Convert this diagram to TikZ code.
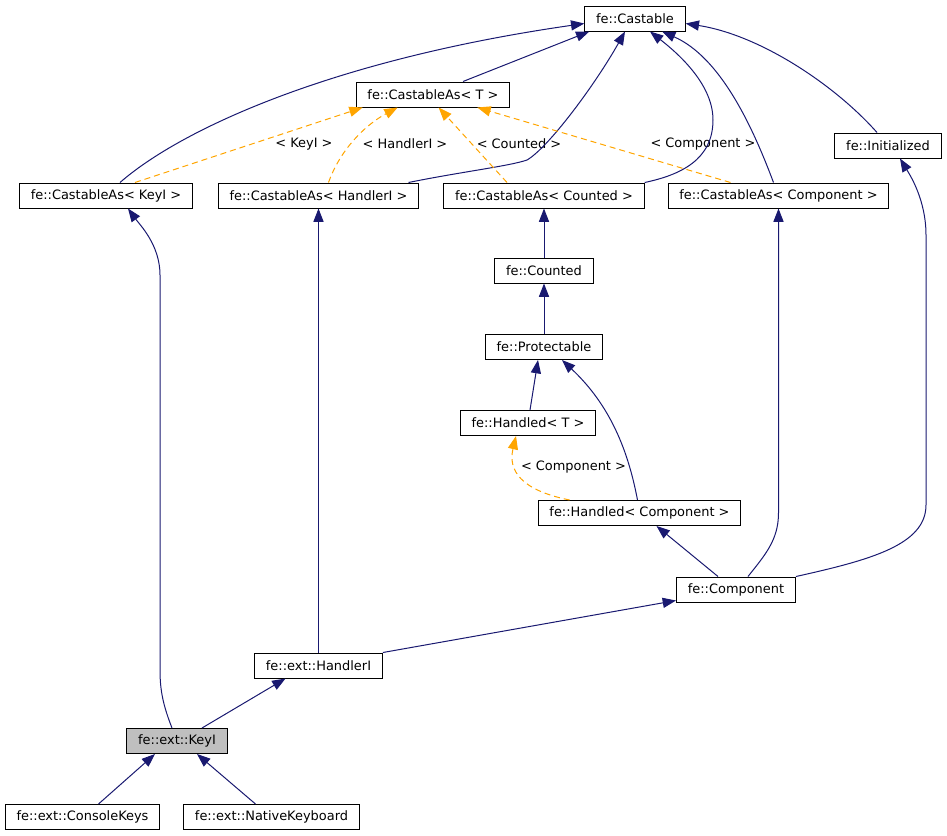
\documentclass[tikz,border=0pt]{standalone}
\usepackage{fontspec}
\setmainfont{DejaVu Sans}
\usetikzlibrary{arrows.meta,calc}
\definecolor{edgeblue}{HTML}{191970}
\definecolor{tplorange}{HTML}{FFA500}
\tikzset{
  cls/.style={draw=black,line width=0.75pt,fill=white,minimum height=18.75pt,inner xsep=8.5pt,inner ysep=0pt,font=\fontsize{9.7pt}{11pt}\selectfont},
  inh/.style={draw=edgeblue,line width=0.75pt,-{Triangle[length=10pt,width=7.6pt,fill=edgeblue]}},
  tpl/.style={draw=tplorange,line width=0.75pt,dash pattern=on 4.5pt off 3pt,-{Triangle[length=10pt,width=7.6pt,fill=tplorange]}},
  lbl/.style={inner sep=0pt,font=\fontsize{9.7pt}{11pt}\selectfont}
}
\begin{document}
\begin{tikzpicture}[x=0.75pt,y=-0.75pt]
\useasboundingbox (0,0) rectangle (947,836);
\node[cls] (castable) at (635,18.5) {fe::Castable};
\node[cls] (castableT) at (433,94.5) {fe::CastableAs< T >};
\node[cls] (initialized) at (888,145.5) {fe::Initialized};
\node[cls] (keyas) at (106,195.5) {fe::CastableAs< KeyI >};
\node[cls] (handleras) at (318.5,195.5) {fe::CastableAs< HandlerI >};
\node[cls] (countedas) at (544,195.5) {fe::CastableAs< Counted >};
\node[cls] (componentas) at (778.5,195.5) {fe::CastableAs< Component >};
\node[cls] (counted) at (544,270.5) {fe::Counted};
\node[cls] (protectable) at (544,347) {fe::Protectable};
\node[cls] (handledT) at (528,423) {fe::Handled< T >};
\node[cls] (handledC) at (639.5,513) {fe::Handled< Component >};
\node[cls] (component) at (736,589.5) {fe::Component};
\node[cls] (handlerI) at (318.5,665.5) {fe::ext::HandlerI};
\node[cls,fill=black!25] (keyI) at (177,741) {fe::ext::KeyI};
\node[cls] (consoleKeys) at (82.5,817) {fe::ext::ConsoleKeys};
\node[cls] (native) at (271.5,817) {fe::ext::NativeKeyboard};
\node[lbl] (lkey) at (304,144) {< KeyI >};
\node[lbl] (lhandler) at (405,144) {< HandlerI >};
\node[lbl] (lcounted) at (519,144) {< Counted >};
\node[lbl] (lcomp) at (703,144) {< Component >};
\node[lbl] (lhcomp) at (573.5,467) {< Component >};
\draw[inh] ($(castableT.north)+(30,0)$) -- ($(castable.south west)+(5,0)$);
\draw[inh] ($(keyas.north)+(14,0)$) .. controls (180,130) and (330,60) .. ($(castable.west)+(0,5)$);
\draw[inh] ($(handleras.north)+(90,0)$) .. controls (460,172) and (510,166) .. (527,160) .. controls (548,148) and (595,85) .. ($(castable.south)+(-10,0)$);
\draw[inh] (countedas.north east) .. controls (680,175) and (713,160) .. (713,120) .. controls (713,85) and (680,55) .. ($(castable.south)+(15,0)$);
\draw[inh] ($(componentas.north)+(-5,0)$) .. controls (752,125) and (720,57) .. ($(castable.south)+(27,0)$);
\draw[inh] ($(initialized.north)+(-11,0)$) .. controls (835,85) and (760,35) .. ($(castable.east)+(0,5)$);
\draw[tpl] ($(keyas.north)+(29,0)$) -- ($(castableT.south west)+(7,0)$);
\draw[tpl] ($(handleras.north)+(10,0)$) .. controls (340,150) and (365,125) .. ($(castableT.south west)+(42,0)$);
\draw[tpl] ($(countedas.north)+(-37,0)$) -- ($(castableT.south west)+(83,0)$);
\draw[tpl] ($(componentas.north)+(-48,0)$) -- ($(castableT.south east)+(-33,0)$);
\draw[inh] (counted) -- (countedas);
\draw[inh] (protectable) -- (counted);
\draw[inh] ($(handledT.north)+(2,0)$) -- ($(protectable.south)+(-6,0)$);
\draw[inh] ($(handledC.north)+(-2,0)$) .. controls (628,450) and (610,405) .. ($(protectable.south)+(18,0)$);
\draw[tpl] ($(handledC.north west)+(32,0)$) .. controls (520,490) and (508,470) .. ($(handledT.south)+(-12,0)$);
\draw[inh] ($(component.north)+(-18,0)$) -- ($(handledC.south)+(17,0)$);
\draw[inh] ($(component.north)+(12,0)$) .. controls (765,555) and (778.5,540) .. (778.5,513) -- (componentas.south);
\draw[inh] (component.north east) .. controls (870,560) and (926,545) .. (926,505) -- (926,235) .. controls (926,200) and (910,175) .. ($(initialized.south)+(12,0)$);
\draw[inh] (handlerI.north east) -- ($(component.south west)+(0,-2)$);
\draw[inh] (handlerI) -- (handleras);
\draw[inh] ($(keyI.north)+(-5,0)$) .. controls (163,705) and (160,690) .. (160,670) -- (160,275) .. controls (160,245) and (140,225) .. ($(keyas.south)+(22,0)$);
\draw[inh] ($(keyI.north)+(25,0)$) -- ($(handlerI.south)+(-33,0)$);
\draw[inh] ($(consoleKeys.north)+(16,0)$) -- ($(keyI.south)+(-22,0)$);
\draw[inh] ($(native.north)+(-16,0)$) -- ($(keyI.south)+(20,0)$);
\end{tikzpicture}
\end{document}
